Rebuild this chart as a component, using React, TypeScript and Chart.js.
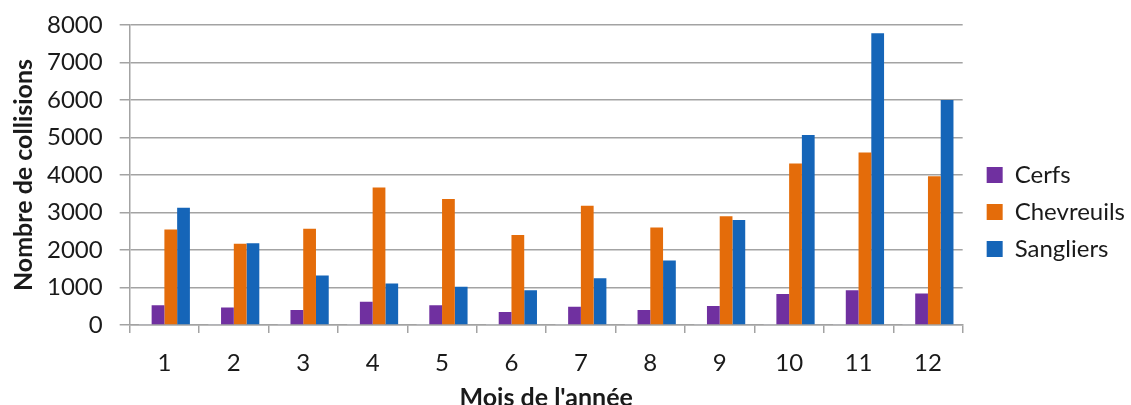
import { useEffect, useRef } from 'react';
import { Chart, registerables } from 'chart.js';

Chart.register(...registerables);

const months = ['1', '2', '3', '4', '5', '6', '7', '8', '9', '10', '11', '12'];
const autres = [15, 15, 15, 15, 15, 15, 15, 15, 15, 15, 15, 15];
const cerfs = [530, 470, 400, 620, 530, 350, 490, 400, 510, 830, 930, 840];
const chevreuils = [2550, 2170, 2570, 3670, 3360, 2400, 3180, 2600, 2900, 4310, 4600, 3970];
const sangliers = [3130, 2180, 1320, 1110, 1020, 930, 1250, 1720, 2800, 5070, 7780, 6000];
const yTicks = [0, 1000, 2000, 3000, 4000, 5000, 6000, 7000, 8000];

const FONT = 'Lato, "Open Sans", sans-serif';
const TEXT = '#1a1a1a';
const GRID = '#a3a3a3';

export default function App() {
  const ref = useRef<HTMLCanvasElement>(null);
  useEffect(() => {
    const chart = new Chart(ref.current as HTMLCanvasElement, {
      type: 'bar',
      data: {
        labels: months,
        datasets: [
          { label: '', data: autres, backgroundColor: '#dde2f1' },
          { label: 'Cerfs', data: cerfs, backgroundColor: '#7030a0' },
          { label: 'Chevreuils', data: chevreuils, backgroundColor: '#e46c0a' },
          { label: 'Sangliers', data: sangliers, backgroundColor: '#1565b8' },
        ],
      },
      options: {
        responsive: false,
        animation: false,
        devicePixelRatio: 1,
        datasets: { bar: { categoryPercentage: 0.735, barPercentage: 1 } },
        layout: { padding: { left: 11, top: 19, right: -4, bottom: 0 } },
        plugins: {
          tooltip: { enabled: false },
          legend: {
            position: 'right',
            labels: {
              boxWidth: 16,
              boxHeight: 16,
              padding: 13,
              color: TEXT,
              font: { family: FONT, size: 24 },
              filter: (item) => item.datasetIndex !== 0,
            },
          },
        },
        scales: {
          x: {
            grid: { offset: true, drawOnChartArea: false, tickLength: 8, color: GRID, lineWidth: 1.5 },
            border: { color: GRID, width: 1.5 },
            ticks: { color: TEXT, font: { family: FONT, size: 24, lineHeight: 1 }, padding: 18 },
            title: {
              display: true,
              text: "Mois de l'année",
              color: TEXT,
              font: { family: FONT, size: 25, weight: 'bold', lineHeight: 1 },
              padding: { top: -8, bottom: -5 },
            },
          },
          y: {
            min: 0,
            max: 8000,
            afterBuildTicks: (axis) => {
              axis.ticks = yTicks.map((v) => ({ value: v }));
            },
            grid: { color: GRID, lineWidth: 1.5, tickLength: 10 },
            border: { color: GRID, width: 1.5 },
            ticks: {
              color: TEXT,
              font: { family: FONT, size: 24, lineHeight: 0.67 },
              padding: 17,
              callback: (v) => String(v),
            },
            title: {
              display: true,
              text: 'Nombre de collisions',
              color: TEXT,
              font: { family: FONT, size: 25, weight: 'bold', lineHeight: 1 },
              padding: { top: 0, bottom: -6 },
            },
          },
          spacer: {
            type: 'linear',
            position: 'right',
            display: true,
            grid: { display: false, drawTicks: false },
            ticks: { display: false },
            border: { display: false },
            afterFit: (s) => {
              s.width = 11;
            },
          },
        },
      },
    });
    return () => chart.destroy();
  }, []);
  return (
    <div style={{ position: 'fixed', left: 0, top: 0, width: 1131, height: 405, background: '#fff' }}>
      <canvas ref={ref} width={1131} height={405} style={{ display: 'block' }} />
    </div>
  );
}
